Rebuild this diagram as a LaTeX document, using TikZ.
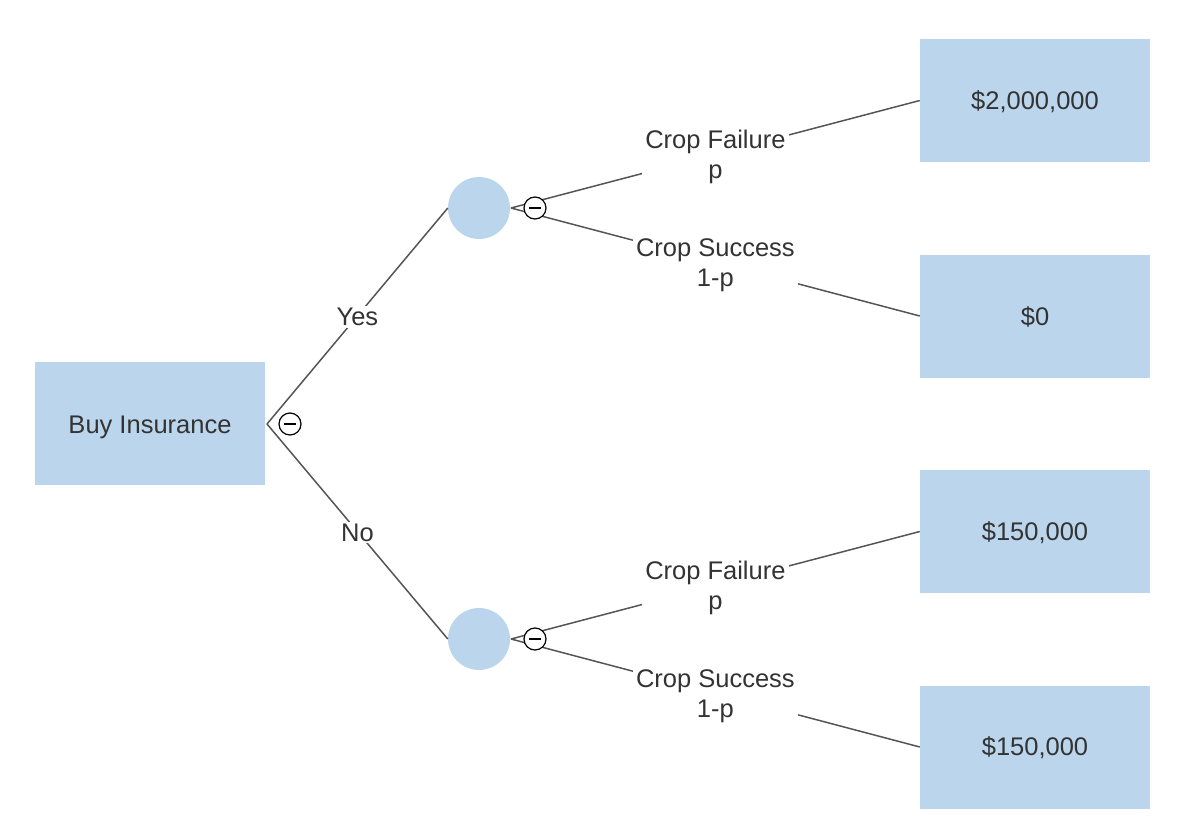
\documentclass[tikz,border=0pt]{standalone}
\usepackage{fontspec}
\setmainfont{Liberation Sans}
\definecolor{boxblue}{HTML}{BBD6EC}
\definecolor{txt}{HTML}{333333}
\definecolor{ln}{HTML}{555555}
\begin{document}
\begin{tikzpicture}[x=1pt,y=-1pt,
  box/.style={fill=boxblue, minimum width=230pt, minimum height=123pt, text=txt,
    font=\fontsize{25.5}{30}\selectfont, inner sep=0pt},
  chance/.style={circle, fill=boxblue, minimum size=62pt, inner sep=0pt},
  lbl/.style={fill=white, text=txt, font=\fontsize{25.5}{30}\selectfont, align=center, inner xsep=3pt, inner ysep=2pt},
  lbltwo/.style={lbl, yshift=-3pt},
  edge/.style={draw=ln, line width=1.5pt},
  minus/.style={circle, draw=black, fill=white, line width=1.2pt, minimum size=22pt, inner sep=0pt,
    path picture={\draw[black, line width=1.5pt] ([xshift=-6pt]path picture bounding box.center) -- ([xshift=6pt]path picture bounding box.center);}}]
\newcommand{\dn}[2][3.5pt]{\raisebox{-#1}[\height][\depth]{#2}}
\useasboundingbox (0,0) rectangle (1184,838);
% nodes
\node[box] (dec) at (150,423.5) {\dn{Buy Insurance}};
\node[chance] (c1) at (479,208) {};
\node[chance] (c2) at (479,639) {};
\node[box] (o1) at (1035,100.5) {\dn[1pt]{\$2,000,000}};
\node[box] (o2) at (1035,316) {\dn[0.5pt]{\$0}};
\node[box] (o3) at (1035,531.5) {\dn[1pt]{\$150,000}};
\node[box] (o4) at (1035,747) {\dn[0.5pt]{\$150,000}};
\coordinate (d0) at (267,424);
\coordinate (s1) at (511,208);
\coordinate (s2) at (511,639);
% connectors
\draw[edge] (d0) -- node[lbl, yshift=-1pt] {Yes} (c1.west);
\draw[edge] (d0) -- node[lbl, yshift=-1pt] {No} (c2.west);
\draw[edge] (s1) -- node[lbltwo] {Crop Failure\\p} (o1.west);
\draw[edge] (s1) -- node[lbltwo] {Crop Success\\1-p} (o2.west);
\draw[edge] (s2) -- node[lbltwo] {Crop Failure\\p} (o3.west);
\draw[edge] (s2) -- node[lbltwo] {Crop Success\\1-p} (o4.west);
% collapse markers
\node[minus] (m0) at (290,424) {};
\node[minus] (m1) at (535,208) {};
\node[minus] (m2) at (535,639) {};
\end{tikzpicture}
\end{document}
